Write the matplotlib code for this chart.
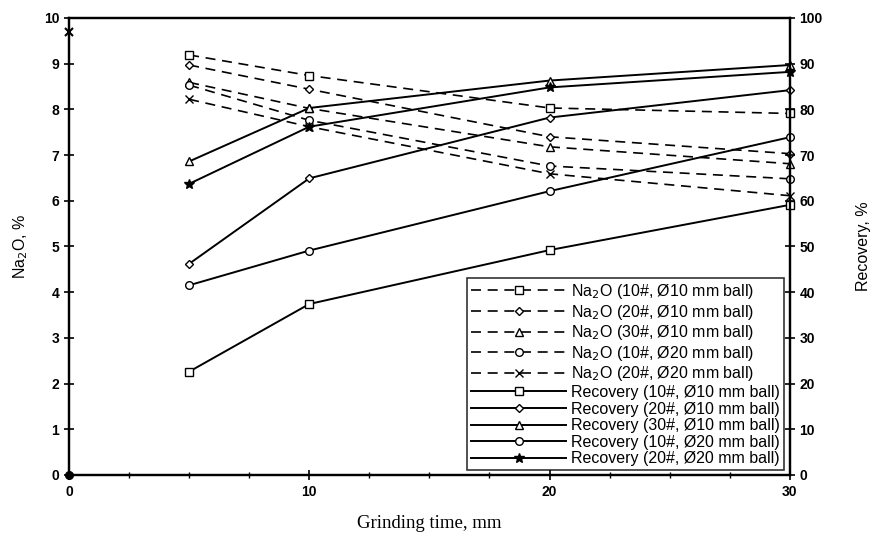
import numpy as np
import matplotlib.pyplot as plt

# grinding time, min
t = [5, 10, 20, 30]

# Na2O content, %
na_10_10 = [9.19, 8.74, 8.03, 7.91]
na_20_10 = [8.97, 8.44, 7.40, 7.03]
na_30_10 = [8.59, 8.02, 7.18, 6.81]
na_10_20 = [8.53, 7.76, 6.76, 6.48]
na_20_20 = [8.22, 7.62, 6.59, 6.11]

# recovery, %
rec_10_10 = [22.6, 37.4, 49.2, 59.1]
rec_20_10 = [46.2, 64.9, 78.2, 84.2]
rec_30_10 = [68.6, 80.3, 86.3, 89.7]
rec_10_20 = [41.5, 49.1, 62.1, 73.9]
rec_20_20 = [63.7, 76.2, 84.8, 88.2]

# starting point (t = 0)
t0 = [0]
na_start = [9.7]
rec_start = [0]

plt.rcParams['font.family'] = ['Liberation Sans', 'DejaVu Sans']

fig = plt.figure(figsize=(8.78, 5.44), dpi=100)
ax = fig.add_axes([0.0786, 0.127, 0.821, 0.840])
ax2 = ax.twinx()

ms = 5.5
dash = dict(ls=(0, (6, 4)), lw=1.2, color='black', mfc='white', mec='black', ms=ms, clip_on=False)
solid = dict(ls='-', lw=1.4, color='black', mfc='white', mec='black', ms=ms, clip_on=False)

h = []
h += ax.plot(t, na_10_10, marker='s', label='Na$_2$O (10#, Ø10 mm ball)', **dash)
h += ax.plot(t, na_20_10, marker='D', label='Na$_2$O (20#, Ø10 mm ball)', **dict(dash, ms=4.5))
h += ax.plot(t, na_30_10, marker='^', label='Na$_2$O (30#, Ø10 mm ball)', **dash)
h += ax.plot(t, na_10_20, marker='o', label='Na$_2$O (10#, Ø20 mm ball)', **dash)
h += ax.plot(t, na_20_20, marker='x', label='Na$_2$O (20#, Ø20 mm ball)', **dash)
ax.plot(t0, na_start, marker='x', ls='none', color='black', ms=ms, mew=1.5, clip_on=False)

h += ax2.plot(t, rec_10_10, marker='s', label='Recovery (10#, Ø10 mm ball)', **solid)
h += ax2.plot(t, rec_20_10, marker='D', label='Recovery (20#, Ø10 mm ball)', **dict(solid, ms=4.5))
h += ax2.plot(t, rec_30_10, marker='^', label='Recovery (30#, Ø10 mm ball)', **solid)
h += ax2.plot(t, rec_10_20, marker='o', label='Recovery (10#, Ø20 mm ball)', **solid)
h += ax2.plot(t, rec_20_20, marker='*', label='Recovery (20#, Ø20 mm ball)', **dict(solid, mfc='black', ms=7))
ax2.plot(t0, rec_start, marker='o', ls='none', color='black', ms=ms, clip_on=False)

ax.set_xlim(0, 30)
ax.set_ylim(0, 10)
ax2.set_ylim(0, 100)
ax.set_xticks([0, 10, 20, 30])
ax.set_xticks(np.arange(0, 30.1, 2.5), minor=True)
ax.set_yticks(range(0, 11))
ax2.set_yticks(range(0, 101, 10))

for a in (ax, ax2):
    a.tick_params(axis='both', which='major', direction='inout', length=7, width=1.2, labelsize=10)
    a.tick_params(axis='x', which='minor', direction='inout', length=5, width=1)
    for lab in a.get_xticklabels() + a.get_yticklabels():
        lab.set_fontweight('bold')
    for sp in a.spines.values():
        sp.set_linewidth(1.6)

ax.set_xlabel('Grinding time, mm', family='Liberation Serif', fontsize=13.5, labelpad=12)
ax.set_ylabel('Na$_2$O, %', fontsize=11.5, labelpad=10)
ax2.set_ylabel('Recovery, %', fontsize=11.5, labelpad=24)

leg = ax2.legend(handles=h, loc='lower right', bbox_to_anchor=(0.992, 0.01), borderaxespad=0,
                 fontsize=11.5, frameon=True, fancybox=False, edgecolor='black',
                 handlelength=6.0, labelspacing=0.1, borderpad=0.25, handletextpad=0.3)
leg.get_frame().set_linewidth(1.2)

fig.savefig('out.png', dpi=100)
